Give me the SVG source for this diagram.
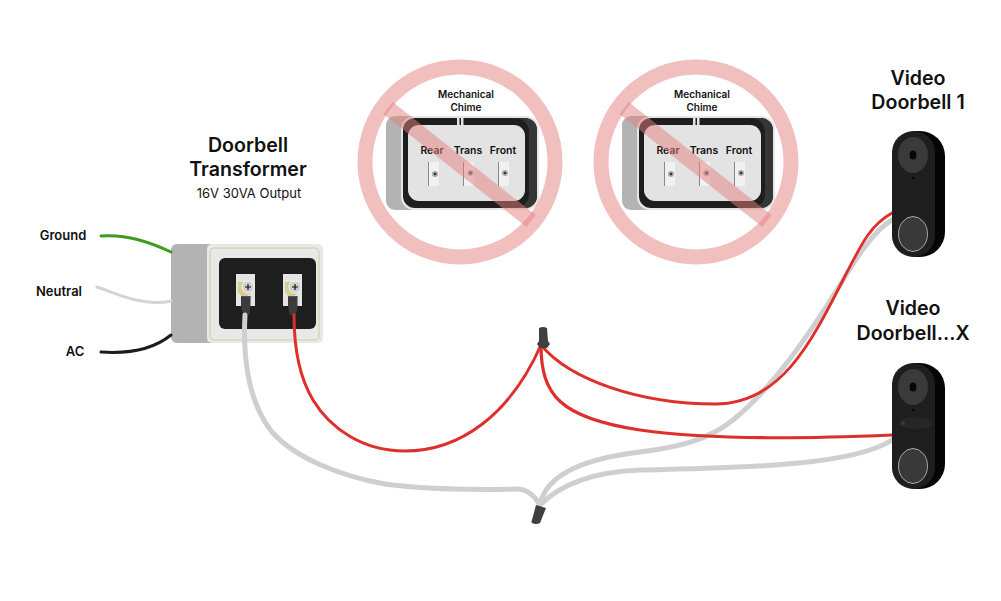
<svg xmlns="http://www.w3.org/2000/svg" width="1001" height="601" viewBox="0 0 1001 601">
<style>
text{font-family:Inter,"Liberation Sans",sans-serif;text-anchor:middle;fill:#111}
.t{font-size:19.600px;font-weight:600}
.w{font-size:13px;font-weight:600}
.c{font-size:10px;font-weight:600}
.r{font-size:10.500px;font-weight:600}
.wire{fill:none;stroke-width:3;stroke-linecap:round}
.gy{stroke:#cfcfcf;stroke-width:5}
.rd{stroke:#de2f2b;stroke-width:3}
.ban{fill:none;stroke:#e58080;stroke-opacity:.5;stroke-width:15}
</style>
<defs>
<g id="chime">
<rect x="386" y="116" width="60" height="94" rx="9" fill="#b3b3b3"/>
<rect x="401" y="116" width="138" height="94" rx="13" fill="#e6e6e6"/>
<rect x="403" y="118" width="134" height="90" rx="12" fill="#1f1e1e"/>
<path d="M510 118h15a12 12 0 0 1 12 12v66a12 12 0 0 1-12 12h-8a14 14 0 0 0 12-14v-62a14 14 0 0 0-12-14z" fill="#363636"/>
<rect x="408" y="125" width="117" height="76" rx="11" fill="#e3e3e3"/>
<rect x="457" y="117" width="2.500" height="8" fill="#e3e3e3"/>
<rect x="461" y="117" width="2.500" height="8" fill="#e3e3e3"/>
<rect x="428" y="162" width="11" height="24" fill="#f1f1f1"/>
<rect x="428" y="162" width="1" height="24" fill="#888"/>
<circle cx="435" cy="174" r="3" fill="#aaa"/><circle cx="435" cy="174" r="1.300" fill="#333"/>
<rect x="463" y="162" width="11" height="24" fill="#f1f1f1"/>
<rect x="463" y="162" width="1" height="24" fill="#888"/>
<circle cx="470.500" cy="173" r="3" fill="#aaa"/><circle cx="470.500" cy="173" r="1.300" fill="#333"/>
<rect x="498" y="162" width="11" height="24" fill="#f1f1f1"/>
<rect x="498" y="162" width="1" height="24" fill="#888"/>
<circle cx="505" cy="173" r="3" fill="#aaa"/><circle cx="505" cy="173" r="1.300" fill="#333"/>
</g>
<g id="term">
<rect x="0" y="0" width="19" height="32" fill="#e4e4e4"/>
<path d="M2 8h8l6 2v8l-6 5H6l-4-5z" fill="#d8cd8e"/>
<circle cx="12" cy="13" r="6" fill="#cfcfcf" stroke="#f4f4f4"/>
<path d="M9 13h6M12 10v6" stroke="#111" stroke-width="1.200"/>
<path d="M5 22h9.500v11l-1.500 8H7l-2-8z" fill="#3c3c3c"/>
<rect x="5" y="22" width="9.500" height="1" fill="#3f5a80"/>
</g>
<g id="bell">
<rect x="892" y="0" width="53" height="126" rx="25" fill="#050505"/>
<rect x="892" y="0" width="43" height="126" rx="21.500" fill="#1f1e1e"/>
<ellipse cx="913" cy="24" rx="15" ry="18" fill="#3a3a3b"/>
<ellipse cx="913" cy="24" rx="3.500" ry="4.500" fill="#060606"/>
<circle cx="913" cy="47" r="1.300" fill="#060606"/>
<ellipse cx="913" cy="103" rx="14.500" ry="17.500" fill="#39393a" stroke="#c9c9c9" stroke-width="0.800"/>
</g>
</defs>
<rect width="1001" height="601" fill="#fff"/>
<g id="transformer">
<rect x="171" y="244" width="60" height="99" rx="6" fill="#b3b3b3"/>
<rect x="207" y="244" width="116" height="99" rx="5" fill="#e8e8e8"/>
<rect x="210" y="248" width="109" height="92" rx="4" fill="none" stroke="#c9c39a" stroke-width="0.800"/>
<rect x="219" y="258" width="97" height="71" rx="6" fill="#1f1e1e"/>
<use href="#term" x="236" y="274"/>
<use href="#term" x="283" y="274"/>
<text class="t" x="248" y="152">Doorbell</text>
<text class="t" x="248" y="176">Transformer</text>
<text x="249" y="198" style="font-size:13px">16V 30VA Output</text>
</g>
<g id="connectors">
<path class="wire" stroke="#3f9b1e" d="M101 236C125 234 150 242 171 252"/>
<path class="wire" stroke="#d4d4d4" d="M97 287C120 295 145 307 171 301"/>
<path class="wire" stroke="#1c1c1c" d="M101 352C130 354 155 348 171 335"/>
<path class="wire gy" d="M245 315C243 350 246 400 272 432C295 458 340 476 385 484C420 489 470 490 517 489C527 489 534 495 540 505"/>
<path class="wire gy" d="M540 505C546 472 590 458 640 452C680 447 708 440 733 420C770 390 805 342 843 280C860 252 875 230 892 220"/>
<path class="wire gy" d="M540 505C560 485 590 472 640 470C720 468 850 468 892 440"/>
<path class="wire rd" d="M294 315C294 345 298 375 313 400C330 428 362 451 405 451C460 451 510 415 541 345"/>
<path class="wire rd" style="stroke-width:2.800" d="M541 345C570 380 640 404 715 404C780 404 810 345 843 280C861 245 870 225 892 213"/>
<path class="wire rd" style="stroke-width:3.200" d="M541 345C541 395 560 418 640 430C720 441 820 438 892 435"/>
<path d="M539 328q4-2 8 0l1 13 2 3-3 4h-7l-3-4 2-3z" fill="#3f3f3f"/>
<path d="M536 505l10 3-6 15q-4 2-8 0-1-1 0-3z" fill="#3f3f3f"/>
</g>
<g id="labels">
<text class="w" x="63" y="240">Ground</text>
<text class="w" x="59" y="296">Neutral</text>
<text class="w" x="75" y="356">AC</text>
</g>
<g id="chime1">
<use href="#chime"/>
<text class="c" x="466" y="98">Mechanical</text>
<text class="c" x="466" y="111">Chime</text>
<text class="r" x="432" y="154">Rear</text>
<text class="r" x="468" y="154">Trans</text>
<text class="r" x="503" y="154">Front</text>
<circle class="ban" cx="460" cy="162" r="95"/>
<path class="ban" d="M388 108L531 221"/>
</g>
<g id="chime2">
<use href="#chime" x="236"/>
<text class="c" x="702" y="98">Mechanical</text>
<text class="c" x="702" y="111">Chime</text>
<text class="r" x="668" y="154">Rear</text>
<text class="r" x="704" y="154">Trans</text>
<text class="r" x="739" y="154">Front</text>
<circle class="ban" cx="696" cy="162" r="95"/>
<path class="ban" d="M624 108L767 221"/>
</g>
<g id="doorbell1">
<use href="#bell" y="131"/>
<text class="t" x="918" y="85">Video</text>
<text class="t" x="918" y="109">Doorbell 1</text>
</g>
<g id="doorbellx">
<use href="#bell" y="363"/>
<ellipse cx="916" cy="423" rx="17" ry="6" fill="#272626"/>
<circle cx="903" cy="423" r="2" fill="#3a3a3a"/>
<text class="t" x="913" y="315">Video</text>
<text class="t" x="913" y="340">Doorbell...X</text>
</g>
</svg>
